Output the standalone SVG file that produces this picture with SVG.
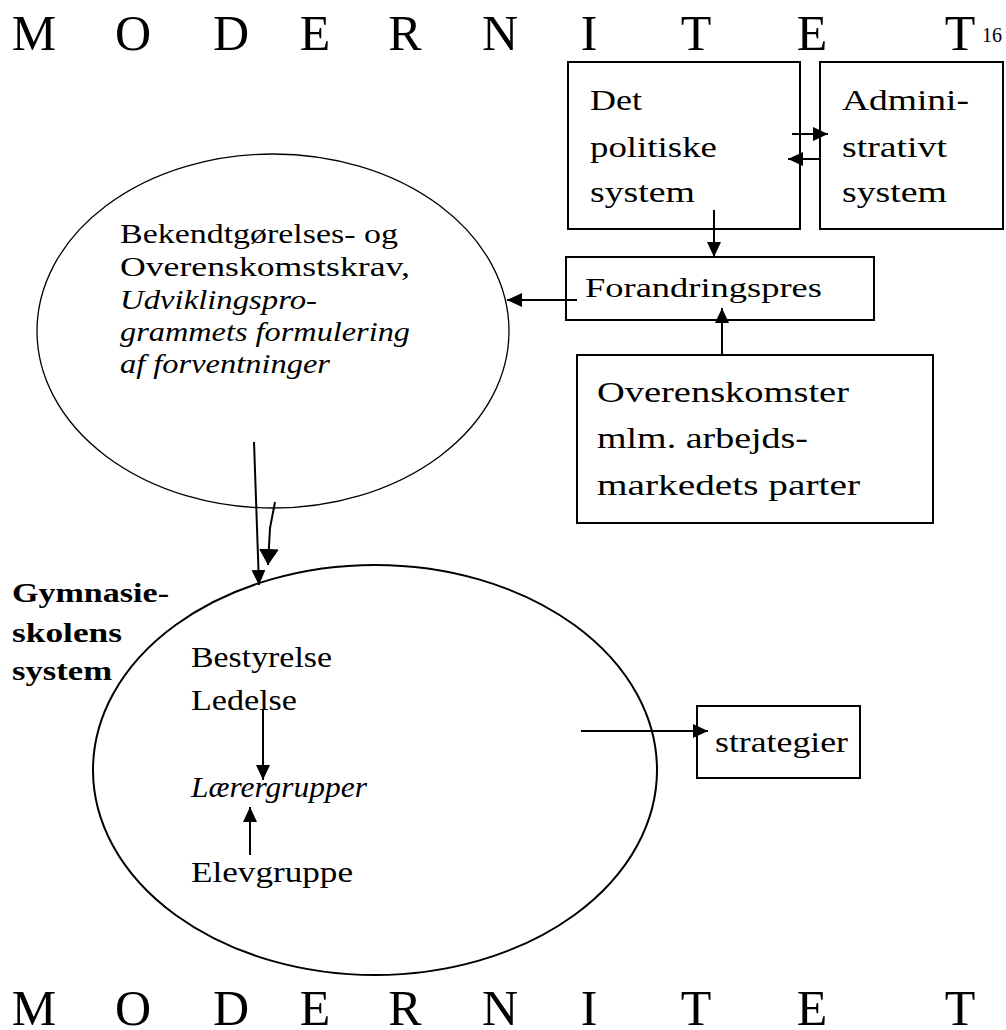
<svg xmlns="http://www.w3.org/2000/svg" width="1006" height="1030" viewBox="0 0 1006 1030">
<style>
text{font-family:"Liberation Serif","Times New Roman",serif;fill:#000}
.title{font-size:50px;text-anchor:middle}
.sup{font-size:20px}
.box{fill:#fff;stroke:#000;stroke-width:2}
.t30{font-size:30px}
.thin{font-size:27px}
.it{font-style:italic}
.bold{font-weight:bold;font-size:27px}
.edge{stroke:#000;stroke-width:2;fill:none}
</style>
<defs>
<marker id="ah" markerUnits="userSpaceOnUse" markerWidth="15" markerHeight="14" refX="15" refY="7" orient="auto">
<path d="M0,0 L15,7 L0,14 z" fill="#000"/>
</marker>
<marker id="ahb" markerUnits="userSpaceOnUse" markerWidth="16" markerHeight="20" refX="16" refY="10" orient="auto">
<path d="M0,0 L16,10 L0,20 z" fill="#000"/>
</marker>
</defs>
<rect width="1006" height="1030" fill="#fff"/>

<g id="title-top">
<text class="title" x="34 133 231 315 405 500 589 696 812 960" y="50">MODERNITET</text>
<text class="sup" x="982" y="42">16</text>
</g>

<g id="node-politisk">
<rect class="box" x="568" y="62" width="232" height="167"/>
<text class="t30" x="590" y="110" textLength="52" lengthAdjust="spacingAndGlyphs">Det</text>
<text class="t30" x="590" y="157" textLength="127" lengthAdjust="spacingAndGlyphs">politiske</text>
<text class="t30" x="590" y="202" textLength="105" lengthAdjust="spacingAndGlyphs">system</text>
</g>

<g id="node-administrativt">
<rect class="box" x="820" y="62" width="183" height="167"/>
<text class="t30" x="842" y="110" textLength="127" lengthAdjust="spacingAndGlyphs">Admini-</text>
<text class="t30" x="842" y="157" textLength="105" lengthAdjust="spacingAndGlyphs">strativt</text>
<text class="t30" x="842" y="202" textLength="105" lengthAdjust="spacingAndGlyphs">system</text>
</g>

<g id="node-forandringspres">
<rect class="box" x="566" y="257" width="308" height="63"/>
<text class="thin" x="585" y="297" textLength="237" lengthAdjust="spacingAndGlyphs">Forandringspres</text>
</g>

<g id="node-overenskomster">
<rect class="box" x="577" y="355" width="356" height="168"/>
<text class="t30" x="597" y="402" textLength="252" lengthAdjust="spacingAndGlyphs">Overenskomster</text>
<text class="t30" x="597" y="448" textLength="211" lengthAdjust="spacingAndGlyphs">mlm. arbejds-</text>
<text class="t30" x="597" y="495" textLength="263" lengthAdjust="spacingAndGlyphs">markedets parter</text>
</g>

<g id="node-krav">
<ellipse cx="273" cy="331" rx="236" ry="177" fill="none" stroke="#000" stroke-width="1.3"/>
<text class="thin" x="120" y="243" textLength="278" lengthAdjust="spacingAndGlyphs">Bekendtgørelses- og</text>
<text class="thin" x="120" y="276" textLength="290" lengthAdjust="spacingAndGlyphs">Overenskomstskrav,</text>
<text class="thin it" x="120" y="309" textLength="197" lengthAdjust="spacingAndGlyphs">Udviklingspro-</text>
<text class="thin it" x="120" y="341" textLength="290" lengthAdjust="spacingAndGlyphs">grammets formulering</text>
<text class="thin it" x="120" y="373" textLength="210" lengthAdjust="spacingAndGlyphs">af forventninger</text>
</g>

<g id="node-gymnasie-label">
<text class="bold" x="12" y="602" textLength="157" lengthAdjust="spacingAndGlyphs">Gymnasie-</text>
<text class="bold" x="12" y="642" textLength="110" lengthAdjust="spacingAndGlyphs">skolens</text>
<text class="bold" x="12" y="680" textLength="100" lengthAdjust="spacingAndGlyphs">system</text>
</g>

<g id="node-gymnasie">
<ellipse cx="375" cy="770" rx="282" ry="205" fill="none" stroke="#000" stroke-width="2"/>
<text class="t30" x="191" y="667" textLength="141" lengthAdjust="spacingAndGlyphs">Bestyrelse</text>
<text class="t30" x="191" y="710" textLength="106" lengthAdjust="spacingAndGlyphs">Ledelse</text>
<text class="t30 it" x="191" y="797" textLength="176" lengthAdjust="spacingAndGlyphs">Lærergrupper</text>
<text class="t30" x="191" y="882" textLength="162" lengthAdjust="spacingAndGlyphs">Elevgruppe</text>
</g>

<g id="node-strategier">
<rect class="box" x="697" y="706" width="163" height="72"/>
<text class="t30" x="715" y="752" textLength="133" lengthAdjust="spacingAndGlyphs">strategier</text>
</g>

<g id="connectors">
<line class="edge" x1="792" y1="134" x2="828" y2="134" marker-end="url(#ah)"/>
<line class="edge" x1="820" y1="159" x2="788" y2="159" marker-end="url(#ah)"/>
<line class="edge" x1="714" y1="210" x2="714" y2="257" marker-end="url(#ah)"/>
<line class="edge" x1="577" y1="300" x2="507" y2="300" stroke-width="3" marker-end="url(#ah)"/>
<line class="edge" x1="722" y1="355" x2="722" y2="308" marker-end="url(#ah)"/>
<line class="edge" x1="254" y1="442" x2="259" y2="585" marker-end="url(#ah)"/>
<path class="edge" d="M275,502 L270,528 L268,565" stroke-width="2.5" marker-end="url(#ahb)"/>
<line class="edge" x1="263" y1="710" x2="263" y2="780" marker-end="url(#ah)"/>
<line class="edge" x1="250" y1="855" x2="250" y2="807" marker-end="url(#ah)"/>
<line class="edge" x1="581" y1="731" x2="708" y2="731" marker-end="url(#ah)"/>
</g>

<g id="title-bottom">
<text class="title" x="34 133 231 315 405 500 589 696 812 960" y="1025">MODERNITET</text>
</g>
</svg>
